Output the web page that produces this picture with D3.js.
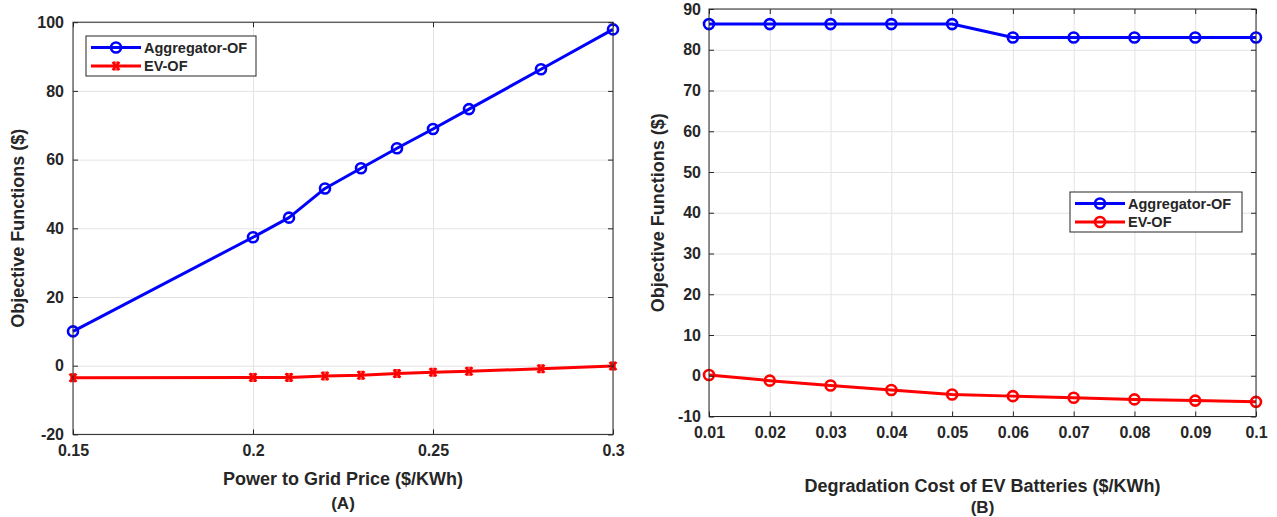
<!DOCTYPE html>
<html><head><meta charset="utf-8">
<script src="https://cdn.jsdelivr.net/npm/d3@7"></script>
<style>
body{margin:0;background:#fff}
text{font-family:"Liberation Sans",Arial,Helvetica,sans-serif;font-weight:bold;fill:#262626}
</style>
</head><body>
<svg id="c" width="1277" height="517"></svg>
<script>
// ---- Data ----
const seriesNames = ["Aggregator-OF", "EV-OF"];

const priceA = [0.15, 0.2, 0.21, 0.22, 0.23, 0.24, 0.25, 0.26, 0.28, 0.3];
const aggregatorA = [10.0, 37.4, 43.1, 51.6, 57.5, 63.3, 68.9, 74.7, 86.3, 97.9];
const evA = [-3.5, -3.4, -3.4, -3.0, -2.8, -2.3, -1.9, -1.6, -0.9, -0.1];
const xTicksA = [0.15, 0.2, 0.25, 0.3];
const xTickLabelsA = ["0.15", "0.2", "0.25", "0.3"];
const yTicksA = [-20, 0, 20, 40, 60, 80, 100];
const yTickLabelsA = ["-20", "0", "20", "40", "60", "80", "100"];

const costB = [0.01, 0.02, 0.03, 0.04, 0.05, 0.06, 0.07, 0.08, 0.09, 0.1];
const aggregatorB = [86.3, 86.3, 86.3, 86.3, 86.3, 83.0, 83.0, 83.0, 83.0, 83.0];
const evB = [0.2, -1.2, -2.4, -3.5, -4.6, -5.0, -5.4, -5.8, -6.1, -6.4];
const xTicksB = [0.01, 0.02, 0.03, 0.04, 0.05, 0.06, 0.07, 0.08, 0.09, 0.1];
const xTickLabelsB = ["0.01", "0.02", "0.03", "0.04", "0.05", "0.06", "0.07", "0.08", "0.09", "0.1"];
const yTicksB = [-10, 0, 10, 20, 30, 40, 50, 60, 70, 80, 90];
const yTickLabelsB = ["-10", "0", "10", "20", "30", "40", "50", "60", "70", "80", "90"];

const yTitle = "Objective Functions ($)";
const xTitleA = "Power to Grid Price ($/KWh)";
const xTitleB = "Degradation Cost of EV Batteries ($/KWh)";

const svg = d3.select("#c");
const INK = "#262626";

function marker(g, type, x, y, color) {
  if (type === "o") {
    g.append("circle").attr("cx", x).attr("cy", y).attr("r", 5)
      .attr("fill", "none").attr("stroke", color).attr("stroke-width", 2.6);
  } else {
    g.append("path").attr("transform", `translate(${x},${y})`)
      .attr("d", "M-3.5,-4L3.5,4M-3.5,4L3.5,-4M-1.5,-4.5L-1.5,4.5M1.5,-4.5L1.5,4.5")
      .attr("fill", "none").attr("stroke", color).attr("stroke-width", 2.4);
  }
}

function panel(cfg) {
  const x = d3.scaleLinear().domain(cfg.xDomain).range([cfg.left, cfg.right]);
  const y = d3.scaleLinear().domain(cfg.yDomain).range([cfg.bottom, cfg.top]);
  const W = cfg.right - cfg.left, H = cfg.bottom - cfg.top;
  const g = svg.append("g");

  g.append("rect").attr("x", cfg.left).attr("y", cfg.top).attr("width", W).attr("height", H).attr("fill", "#fff");

  // grid
  const gx = g.append("g").attr("transform", `translate(0,${cfg.bottom})`)
    .call(d3.axisBottom(x).tickValues(cfg.xTicks).tickSize(-H).tickFormat(""));
  const gy = g.append("g").attr("transform", `translate(${cfg.left},0)`)
    .call(d3.axisLeft(y).tickValues(cfg.yTicks).tickSize(-W).tickFormat(""));
  [gx, gy].forEach(a => {
    a.select(".domain").remove();
    a.selectAll("line").attr("stroke", "#e3e3e3").attr("stroke-width", 1);
  });

  // data
  cfg.series.forEach(s => {
    const pts = cfg.xs.map((v, i) => [x(v), y(s.values[i])]);
    g.append("path").attr("d", d3.line()(pts)).attr("fill", "none")
      .attr("stroke", s.color).attr("stroke-width", 3).attr("stroke-linejoin", "round");
    const mg = g.append("g");
    pts.forEach(p => marker(mg, s.marker, p[0], p[1], s.color));
  });

  // axes (inward ticks)
  const tk = 5;
  const ab = g.append("g").attr("transform", `translate(0,${cfg.bottom})`)
    .call(d3.axisBottom(x).tickValues(cfg.xTicks).tickSize(-tk).tickPadding(10)
      .tickFormat((d, i) => cfg.xTickLabels[i]));
  const at = g.append("g").attr("transform", `translate(0,${cfg.top})`)
    .call(d3.axisTop(x).tickValues(cfg.xTicks).tickSize(-tk).tickFormat(""));
  const al = g.append("g").attr("transform", `translate(${cfg.left},0)`)
    .call(d3.axisLeft(y).tickValues(cfg.yTicks).tickSize(-tk).tickPadding(cfg.yPad)
      .tickFormat((d, i) => cfg.yTickLabels[i]));
  const ar = g.append("g").attr("transform", `translate(${cfg.right},0)`)
    .call(d3.axisRight(y).tickValues(cfg.yTicks).tickSize(-tk).tickFormat(""));
  [ab, at, al, ar].forEach(a => {
    a.selectAll("line").attr("stroke", INK).attr("stroke-width", 1);
    a.selectAll("text").style("font-size", "16px").attr("fill", INK)
      .style("font-family", '"Liberation Sans",Arial,sans-serif').style("font-weight", "bold");
    a.select(".domain").remove();
  });
  g.append("rect").attr("x", cfg.left).attr("y", cfg.top).attr("width", W).attr("height", H)
    .attr("fill", "none").attr("stroke", INK).attr("stroke-width", 1);

  // titles
  g.append("text").attr("x", (cfg.left + cfg.right) / 2).attr("y", cfg.xTitleY)
    .attr("text-anchor", "middle").style("font-size", "18px").text(cfg.xTitle);
  g.append("text").attr("x", (cfg.left + cfg.right) / 2).attr("y", cfg.tagY)
    .attr("text-anchor", "middle").style("font-size", "17px").text(cfg.tag);
  g.append("text").attr("transform", `translate(${cfg.yTitleX},${(cfg.top + cfg.bottom) / 2}) rotate(-90)`)
    .attr("text-anchor", "middle").style("font-size", "18px").text(yTitle);

  // legend
  const L = cfg.legend;
  const lg = g.append("g");
  lg.append("rect").attr("x", L.x).attr("y", L.y).attr("width", L.w).attr("height", L.h)
    .attr("fill", "#fff").attr("stroke", INK).attr("stroke-width", 1);
  cfg.series.forEach((s, i) => {
    const yy = L.y + 11.5 + i * 18.5;
    lg.append("line").attr("x1", L.x + 5).attr("x2", L.x + 55).attr("y1", yy).attr("y2", yy)
      .attr("stroke", s.color).attr("stroke-width", 3);
    marker(lg, s.marker, L.x + 30, yy, s.color);
    lg.append("text").attr("x", L.x + 58).attr("y", yy).attr("dy", "0.36em")
      .style("font-size", "14.5px").text(seriesNames[i]);
  });
}

panel({
  left: 73, right: 613, top: 22.2, bottom: 434.4,
  xDomain: [0.15, 0.3], yDomain: [-20, 100],
  xs: priceA,
  xTicks: xTicksA, xTickLabels: xTickLabelsA,
  yTicks: yTicksA, yTickLabels: yTickLabelsA, yPad: 9,
  series: [
    {values: aggregatorA, color: "#0000ff", marker: "o"},
    {values: evA, color: "#ff0000", marker: "x"}
  ],
  xTitle: xTitleA, xTitleY: 485, tag: "(A)", tagY: 509, yTitleX: 24,
  legend: {x: 86, y: 36, w: 170, h: 40}
});

panel({
  left: 709, right: 1256, top: 9, bottom: 416.5,
  xDomain: [0.01, 0.1], yDomain: [-10, 90],
  xs: costB,
  xTicks: xTicksB, xTickLabels: xTickLabelsB,
  yTicks: yTicksB, yTickLabels: yTickLabelsB, yPad: 8,
  series: [
    {values: aggregatorB, color: "#0000ff", marker: "o"},
    {values: evB, color: "#ff0000", marker: "o"}
  ],
  xTitle: xTitleB, xTitleY: 492, tag: "(B)", tagY: 513, yTitleX: 664,
  legend: {x: 1070, y: 192, w: 172, h: 40}
});
</script>
</body></html>
